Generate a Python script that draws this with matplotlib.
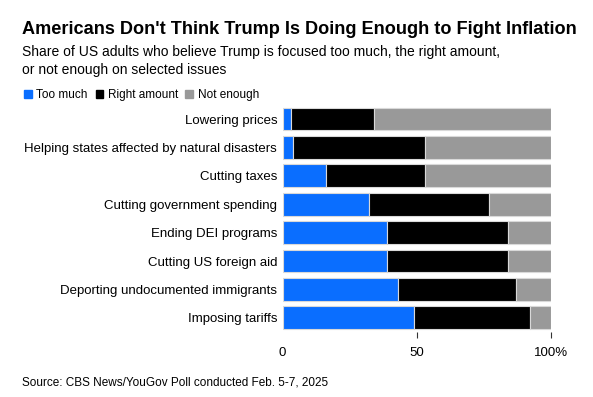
import matplotlib
matplotlib.use("Agg")
import matplotlib.pyplot as plt
import numpy as np

plt.rcParams['font.family'] = ['Liberation Sans', 'DejaVu Sans']

# data (percent of US adults)
issues = [
    "Lowering prices",
    "Helping states affected by natural disasters",
    "Cutting taxes",
    "Cutting government spending",
    "Ending DEI programs",
    "Cutting US foreign aid",
    "Deporting undocumented immigrants",
    "Imposing tariffs",
]
too_much = [3, 4, 16, 32, 39, 39, 43, 49]
right_amount = [31, 49, 37, 45, 45, 45, 44, 43]
not_enough = [66, 47, 47, 23, 16, 16, 13, 8]

series_names = ["Too much", "Right amount", "Not enough"]
colors = ["#0a6eff", "#000000", "#999999"]

fig = plt.figure(figsize=(5.93, 3.97), dpi=100)
ax = fig.add_axes([0.4767, 0.1637, 0.4525, 0.5723])

y = np.arange(len(issues))
left = np.zeros(len(issues))
for vals, col in zip([too_much, right_amount, not_enough], colors):
    ax.barh(y, vals, left=left, height=0.8, color=col,
            edgecolor="#d9d9d9", linewidth=0.8)
    left += np.array(vals)

ax.set_ylim(len(issues) - 0.5, -0.5)
ax.set_xlim(0, 100)
ax.set_yticks(y)
ax.set_yticklabels(issues, fontsize=9.5)
ax.tick_params(axis='y', length=0, pad=4)
ax.set_xticks([0, 50, 100])
ax.set_xticklabels(["0", "50", "100%"], fontsize=9.5)
ax.tick_params(axis='x', length=4, width=0.8, color="#333333", pad=7)
ax.xaxis.get_major_ticks()[0].tick1line.set_visible(False)
for s in ax.spines.values():
    s.set_visible(False)

fig.text(0.037, 0.914, "Americans Don't Think Trump Is Doing Enough to Fight Inflation",
         fontsize=13.1, fontweight='bold', va='baseline')
fig.text(0.037, 0.859, "Share of US adults who believe Trump is focused too much, the right amount,",
         fontsize=10, va='baseline')
fig.text(0.037, 0.813, "or not enough on selected issues", fontsize=10, va='baseline')

# legend drawn as squares + labels
sq_x = [24, 95.7, 185]
tx_x = [36, 107.7, 197.7]
for name, col, sx, tx in zip(series_names, colors, sq_x, tx_x):
    fig.patches.append(plt.Rectangle((sx / 593, 1 - 98 / 397), 7.5 / 593, 8.5 / 397,
                                     color=col, transform=fig.transFigure, figure=fig))
    fig.text(tx / 593, 0.752, name, fontsize=8.5, va='baseline')

fig.text(0.037, 0.028, "Source: CBS News/YouGov Poll conducted Feb. 5-7, 2025",
         fontsize=8.5, va='baseline')

fig.savefig("out.png", dpi=100)
